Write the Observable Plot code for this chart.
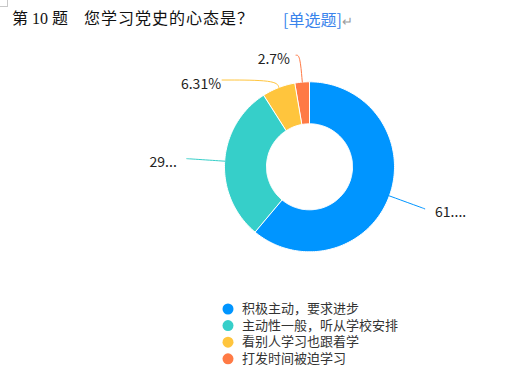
<!DOCTYPE html>
<html><head><meta charset="utf-8">
<script src="https://cdn.jsdelivr.net/npm/d3@7"></script>
<script src="https://cdn.jsdelivr.net/npm/@observablehq/plot@0.6"></script>
<style>
body{margin:0;background:#fff;}
#wrap{position:relative;width:506px;height:379px;overflow:hidden;background:#fff;}
#chart{position:absolute;left:0;top:0;}
.t{position:absolute;top:11px;font-size:16px;line-height:16px;white-space:pre;font-family:"Liberation Serif","Noto Sans CJK SC",serif;color:#111;}
#corner{position:absolute;left:0;top:0;width:7px;height:6px;border-right:1px solid #c8c8c8;border-bottom:1px solid #c8c8c8;}
</style></head><body>
<div id="wrap">
  <div id="chart"></div>
  <div id="corner"></div>
  <div class="t" style="left:12px">第 10 题</div>
  <div class="t" style="left:84px;letter-spacing:1px">您学习党史的心态是？</div>
  <div class="t" style="left:283px;color:#3a84ec;font-family:'Noto Sans CJK SC',sans-serif;font-size:16px">[单选题]<span style="color:#9a9a9a;font-size:13px">↵</span></div>
</div>
<script>
// ---- data ----
const categories = ["积极主动，要求进步", "主动性一般，听从学校安排", "看别人学习也跟着学", "打发时间被迫学习"];
const values = [61.12, 29.87, 6.31, 2.7];
const sliceLabels = ["61....", "29...", "6.31%", "2.7%"];
const colors = ["#0095FF", "#36CFC9", "#FFC53D", "#FF7A45"];

// ---- layout ----
const W = 506, H = 379;
const cx = 309, cy = 166.3, R = 85, r0 = 43;
// leader line layout per slice: [radial length, horizontal length, text gap]
const leader = [[38, 0, 10], [38, 0, 10], [8, 54, 1], [27, 4, 6]];

const arcs = d3.pie().sort(null).value(d => d)(values);
const polar = (rad, a) => [cx + rad * Math.sin(a), cy - rad * Math.cos(a)];

const ringPts = [];
arcs.forEach((a, i) => {
  const n = Math.max(8, Math.ceil((a.endAngle - a.startAngle) / (Math.PI * 2) * 240));
  for (let k = 0; k <= n; k++) {
    const t = a.startAngle + (a.endAngle - a.startAngle) * k / n;
    const [x, y] = polar(R, t);
    ringPts.push({slice: i, x, y, color: colors[i]});
  }
  for (let k = n; k >= 0; k--) {
    const t = a.startAngle + (a.endAngle - a.startAngle) * k / n;
    const [x, y] = polar(r0, t);
    ringPts.push({slice: i, x, y, color: colors[i]});
  }
});

const linePts = [];
const labelPts = [];
arcs.forEach((a, i) => {
  const mid = (a.startAngle + a.endAngle) / 2;
  const side = Math.sin(mid) >= 0 ? 1 : -1;
  const [l1, l2, gap] = leader[i];
  const p0 = polar(R, mid);
  const p1 = polar(R + l1, mid);
  const p2 = [p1[0] + side * l2, p1[1]];
  [p0, p1, p2].forEach(p => linePts.push({slice: i, x: p[0], y: p[1], color: colors[i]}));
  labelPts.push({x: p2[0] + side * gap, y: p2[1] + 4, side, text: sliceLabels[i]});
});

const legend = categories.map((c, i) => ({x: 227.5, y: 308.5 + i * 16.6, color: colors[i], text: c}));

const chart = Plot.plot({
  width: W, height: H,
  margin: 0,
  x: {domain: [0, W], range: [0, W], axis: null},
  y: {domain: [0, H], range: [0, H], axis: null},
  color: {type: "identity"},
  style: {fontFamily: "'Noto Sans CJK SC', sans-serif", background: "#fff"},
  marks: [
    Plot.line(ringPts, {x: "x", y: "y", z: "slice", fill: "color", stroke: "#fff", strokeWidth: 1, curve: "linear-closed"}),
    Plot.line(linePts, {x: "x", y: "y", z: "slice", stroke: "color", strokeWidth: 1, curve: "basis"}),
    Plot.text(labelPts.filter(d => d.side > 0), {x: "x", y: "y", text: "text", textAnchor: "start", fontSize: 14, fill: "#222"}),
    Plot.text(labelPts.filter(d => d.side < 0), {x: "x", y: "y", text: "text", textAnchor: "end", fontSize: 14, fill: "#222"}),
    Plot.dot(legend, {x: "x", y: "y", r: 5.5, fill: "color", stroke: null}),
    Plot.text(legend, {x: d => d.x + 14, y: "y", text: "text", textAnchor: "start", fontSize: 13, fill: "#333"})
  ]
});
document.getElementById("chart").appendChild(chart);
</script>
</body></html>
